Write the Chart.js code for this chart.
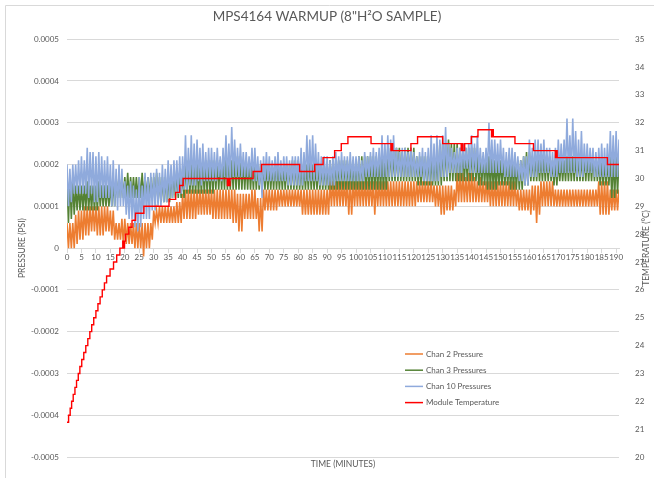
<!DOCTYPE html>
<html>
<head>
<meta charset="utf-8">
<script src="https://cdn.jsdelivr.net/npm/chart.js@4.4.1/dist/chart.umd.min.js"></script>
<style>
  body { margin: 0; background: #fff; }
</style>
</head>
<body>
<canvas id="warmup" width="654" height="478"></canvas>
<script>
// pressure readings, one high/low pair per minute, in units of 1e-5 PSI
const chan2_hi = [
  6,6,6,8,9,9,10,10,10,10,
  10,10,10,10,10,9,9,6,6,7,
  7,6,6,6,6,6,6,6,6,6,
  9,9,10,10,10,10,10,10,11,11,
  13,14,14,14,14,14,14,14,14,14,
  14,14,14,14,14,14,14,14,14,13,
  13,13,13,13,14,14,12,12,14,14,
  14,14,14,14,14,14,14,14,14,14,
  14,14,14,14,14,14,14,14,14,14,
  14,16,16,16,16,16,16,16,16,16,
  16,16,16,16,16,16,16,16,16,16,
  16,16,16,16,16,16,16,16,16,16,
  16,16,16,16,16,16,16,15,15,15,
  15,15,15,15,14,18,18,18,17,18,
  18,17,16,17,16,16,16,16,16,16,
  16,16,16,16,16,16,14,14,14,14,
  14,15,15,15,16,16,16,16,16,14,
  14,14,14,14,14,14,14,14,14,14,
  14,14,14,14,16,16,16,16,14,14,
  14,14
];
const chan2_lo = [
  0,0,0,1,2,2,3,3,4,4,
  3,3,3,4,4,3,2,2,2,1,
  1,1,1,0,0,0,-2,0,0,2,
  6,6,6,6,6,6,6,6,6,6,
  7,7,7,7,7,8,8,8,8,8,
  7,7,7,7,7,7,7,6,6,4,
  4,7,7,7,7,7,4,4,9,9,
  9,9,9,10,10,10,10,10,10,10,
  10,8,8,8,8,8,8,8,8,8,
  8,10,10,10,10,10,10,8,8,10,
  10,10,10,10,10,10,8,10,10,10,
  10,10,10,10,10,10,10,10,10,10,
  10,11,11,11,11,11,11,10,10,8,
  8,9,9,9,10,11,11,11,11,11,
  11,11,11,11,11,11,10,10,10,10,
  10,10,10,10,10,10,9,9,9,9,
  8,9,6,8,10,10,10,10,10,10,
  10,10,10,10,10,10,10,10,10,10,
  10,10,10,10,8,8,8,8,9,9,
  9,10
];
const chan3_hi = [
  17,17,16,15,15,15,15,16,15,15,
  15,16,15,15,15,15,16,17,17,17,
  17,18,17,17,17,17,18,17,17,17,
  17,18,17,17,17,18,18,18,19,18,
  19,21,21,20,21,21,20,21,21,21,
  21,21,21,21,21,22,22,21,22,22,
  22,21,21,21,20,21,20,20,20,20,
  20,20,21,20,20,20,20,20,21,21,
  21,20,20,20,21,20,20,20,20,20,
  20,21,21,21,21,21,21,21,21,21,
  21,22,22,22,22,22,22,22,22,22,
  22,24,24,23,24,24,23,24,24,24,
  24,22,22,22,22,22,22,22,22,25,
  25,25,26,25,25,25,24,24,24,24,
  24,24,22,22,22,22,22,22,21,21,
  21,21,21,21,21,21,21,21,22,23,
  23,22,22,22,22,22,22,22,21,21,
  21,21,21,22,22,22,22,22,22,22,
  22,22,22,22,21,21,21,21,22,22,
  22,22
];
const chan3_lo = [
  6,7,8,9,9,9,9,9,9,9,
  9,10,10,10,10,10,10,12,12,12,
  12,12,12,12,12,12,12,12,12,12,
  12,11,11,11,11,11,12,12,12,12,
  12,13,13,13,13,13,13,13,13,13,
  13,14,14,14,14,14,14,14,14,14,
  14,14,14,14,14,14,14,14,14,14,
  14,14,14,14,14,14,14,14,14,14,
  14,14,14,14,14,14,14,14,14,14,
  14,14,14,14,14,14,14,14,14,14,
  14,14,14,14,14,14,14,14,14,14,
  14,16,16,16,16,16,16,16,16,16,
  16,15,15,15,15,15,15,15,15,15,
  16,16,16,16,16,16,16,16,16,16,
  16,16,15,15,15,14,14,14,14,15,
  15,15,15,14,14,14,14,14,15,15,
  16,16,16,16,16,16,16,16,15,15,
  16,16,16,16,16,16,16,16,16,16,
  16,16,16,16,15,15,15,15,12,12,
  13,15
];
const chan10_hi = [
  20,19,20,20,21,22,21,24,23,23,
  22,23,22,21,22,20,21,19,20,19,
  16,15,16,15,14,17,15,18,17,18,
  18,19,18,20,19,21,20,21,21,22,
  22,27,24,27,25,26,24,25,23,24,
  24,23,24,22,24,27,25,29,26,24,
  25,23,23,22,24,24,22,21,22,23,
  22,21,22,23,21,22,22,21,22,22,
  22,24,23,27,26,27,25,23,22,22,
  22,21,22,23,22,23,22,22,23,22,
  22,22,21,23,22,23,24,23,24,27,
  25,27,26,27,24,23,24,24,23,24,
  23,22,23,24,23,24,27,25,27,26,
  27,29,25,24,23,24,24,25,24,25,
  27,25,27,24,23,24,30,26,26,25,
  26,24,23,24,24,23,22,21,22,22,
  26,24,26,26,25,26,24,24,23,24,
  26,25,26,31,27,31,28,26,28,25,
  25,24,24,23,24,25,24,25,28,27,
  28,26
];
const chan10_lo = [
  10,11,13,13,13,13,13,12,13,11,
  11,12,12,12,12,10,10,9,10,10,
  8,7,7,5,4,5,7,7,7,9,
  9,10,10,11,11,12,12,13,13,13,
  14,14,15,15,15,16,15,16,16,16,
  16,16,17,16,17,16,16,17,17,17,
  17,17,17,17,16,16,15,12,16,16,
  16,16,16,16,16,16,15,15,15,15,
  15,15,16,16,16,16,16,15,15,15,
  15,15,15,16,16,16,16,16,16,16,
  16,16,16,17,17,17,17,17,17,17,
  17,17,17,17,17,17,17,17,17,17,
  17,17,17,16,16,16,16,16,16,17,
  17,17,18,18,18,18,18,19,19,18,
  18,18,18,18,18,18,18,18,18,18,
  18,17,17,17,17,17,16,16,15,15,
  17,17,17,18,18,18,18,17,17,17,
  18,18,18,18,18,18,17,17,17,18,
  18,18,17,17,17,17,17,17,17,17,
  17,18
];

// module temperature: minute at which each new reading starts, and the reading (°C)
const temp_minutes = [
  0, 0.55, 1.1, 1.6, 2.15, 2.75, 3.3, 3.9, 4.45, 5.1,
  5.8, 6.5, 7.2, 7.9, 8.55, 9.25, 10.0, 10.7, 11.45, 12.2,
  12.95, 13.7, 14.9, 16.1, 17.2, 18.3, 19.3, 19.6, 19.9, 20.2,
  21.4, 22.5, 23.7, 26.6, 35.3, 37.6, 39.0, 40.2, 55.5, 55.8,
  56.1, 56.4, 62.4, 64.4, 67.3, 80.5, 85.7, 88.6, 92.6, 94.9,
  97.2, 105.2, 112.1, 112.4, 112.7, 119.0, 121.3, 130.0, 136.4, 136.7,
  137.0, 137.6, 139.9, 142.2, 146.9, 147.2, 147.5, 155.0, 161.4, 169.0,
  169.3, 169.6, 187.0, 191.0
];
const temp_values = [
  21.25, 21.5, 21.75, 22.0, 22.25, 22.5, 22.75, 23.0, 23.25, 23.5,
  23.75, 24.0, 24.25, 24.5, 24.75, 25.0, 25.25, 25.5, 25.75, 26.0,
  26.25, 26.5, 26.75, 27.0, 27.25, 27.5, 27.75, 27.5, 27.75, 28.0,
  28.25, 28.5, 28.75, 29.0, 29.25, 29.5, 29.75, 30.0, 29.75, 30.0,
  29.75, 30.0, 30.0, 30.25, 30.5, 30.25, 30.5, 30.75, 31.0, 31.25,
  31.5, 31.25, 31.0, 31.25, 31.0, 31.25, 31.5, 31.25, 31.0, 31.25,
  31.0, 31.25, 31.5, 31.75, 31.5, 31.75, 31.5, 31.25, 31.0, 30.75,
  31.0, 30.75, 30.5, 30.5
];

const series_names = ['Chan 2 Pressure', 'Chan 3 Pressures', 'Chan 10 Pressures', 'Module Temperature'];

const grey_text = '#595959';
const grid_grey = '#D9D9D9';

function band(hi, lo) {
    const pts = [];
    for (let i = 0; i < hi.length; i++) {
        pts.push({ x: i, y: hi[i] * 1e-5 });
        pts.push({ x: i + 0.5, y: lo[i] * 1e-5 });
    }
    return pts;
}

const temp_points = temp_minutes.map((m, i) => ({ x: m, y: temp_values[i] }));

Chart.defaults.font.family = "Lato, 'Open Sans', sans-serif";
Chart.defaults.color = grey_text;

// frame lines, legend inside the plot, and the right axis title (reads bottom-to-top)
const extras = {
    id: 'extras',
    beforeDraw(chart) {
        const ctx = chart.ctx;
        ctx.save();
        ctx.strokeStyle = grid_grey;
        ctx.lineWidth = 1;
        ctx.beginPath();
        ctx.moveTo(5.5, 478);
        ctx.lineTo(5.5, 5.5);
        ctx.lineTo(654, 5.5);
        ctx.stroke();
        ctx.restore();
    },
    afterDraw(chart) {
        const ctx = chart.ctx;
        ctx.save();
        ctx.font = "8px Lato, 'Open Sans', sans-serif";
        ctx.textBaseline = 'middle';
        ctx.textAlign = 'left';
        chart.data.datasets.forEach((ds, i) => {
            const y = 354 + i * 16.2;
            ctx.strokeStyle = ds.borderColor;
            ctx.lineWidth = 1.5;
            ctx.beginPath();
            ctx.moveTo(405, y);
            ctx.lineTo(423, y);
            ctx.stroke();
            ctx.fillStyle = grey_text;
            ctx.fillText(ds.label, 426, y);
        });
        ctx.translate(646, 248);
        ctx.rotate(-Math.PI / 2);
        ctx.textAlign = 'center';
        ctx.font = "8.5px Lato, 'Open Sans', sans-serif";
        ctx.fillText('TEMPERATURE (°C)', 0, 0);
        ctx.restore();
    }
};

new Chart(document.getElementById('warmup'), {
    type: 'line',
    data: {
        datasets: [{
            label: series_names[0],
            data: band(chan2_hi, chan2_lo),
            borderColor: '#ED7D31',
            borderWidth: 1.6,
            pointRadius: 0,
            yAxisID: 'y',
            order: 3
        }, {
            label: series_names[1],
            data: band(chan3_hi, chan3_lo),
            borderColor: '#548235',
            borderWidth: 1.6,
            pointRadius: 0,
            yAxisID: 'y',
            order: 2
        }, {
            label: series_names[2],
            data: band(chan10_hi, chan10_lo),
            borderColor: '#8FAADC',
            borderWidth: 1.6,
            pointRadius: 0,
            yAxisID: 'y',
            order: 1
        }, {
            label: series_names[3],
            data: temp_points,
            borderColor: '#FF0000',
            borderWidth: 1.4,
            pointRadius: 0,
            stepped: true,
            yAxisID: 'y2',
            order: 0
        }]
    },
    options: {
        responsive: false,
        animation: false,
        events: [],
        plugins: {
            legend: { display: false },
            tooltip: { enabled: false },
            title: {
                display: true,
                text: 'MPS4164 WARMUP (8"H²O SAMPLE)',
                color: grey_text,
                font: { size: 13.5, weight: 'normal' },
                padding: { top: 9, bottom: 14 }
            }
        },
        scales: {
            x: {
                type: 'linear',
                position: { y: 0 },
                min: 0,
                max: 191,
                grid: {
                    drawOnChartArea: false,
                    color: grid_grey,
                    tickLength: 4
                },
                border: { color: grid_grey },
                ticks: {
                    stepSize: 5,
                    includeBounds: false,
                    autoSkip: false,
                    maxRotation: 0,
                    minRotation: 0,
                    padding: 1,
                    font: { size: 8 }
                }
            },
            xt: {
                type: 'linear',
                position: 'bottom',
                grid: { display: false },
                border: { display: false },
                ticks: { display: false },
                title: {
                    display: true,
                    text: 'TIME (MINUTES)',
                    font: { size: 8.5 },
                    padding: { top: 0, bottom: 9 }
                },
                afterFit: (s) => { s.height = 21; }
            },
            y: {
                position: 'left',
                min: -0.0005,
                max: 0.0005,
                grid: { color: grid_grey, drawTicks: false },
                border: { display: false },
                ticks: {
                    stepSize: 0.0001,
                    padding: 8,
                    font: { size: 8 },
                    callback: (v) => v === 0 ? '0' : v.toFixed(4)
                },
                title: {
                    display: true,
                    text: 'PRESSURE (PSI)',
                    font: { size: 8.5 },
                    padding: { top: 17, bottom: 0 }
                },
                afterFit: (s) => { s.width = 67; }
            },
            y2: {
                position: 'right',
                min: 20,
                max: 35,
                grid: { display: false },
                border: { display: false },
                ticks: {
                    stepSize: 1,
                    padding: 8,
                    font: { size: 8 }
                },
                afterFit: (s) => { s.width = 35; }
            }
        }
    },
    plugins: [extras]
});
</script>
</body>
</html>
